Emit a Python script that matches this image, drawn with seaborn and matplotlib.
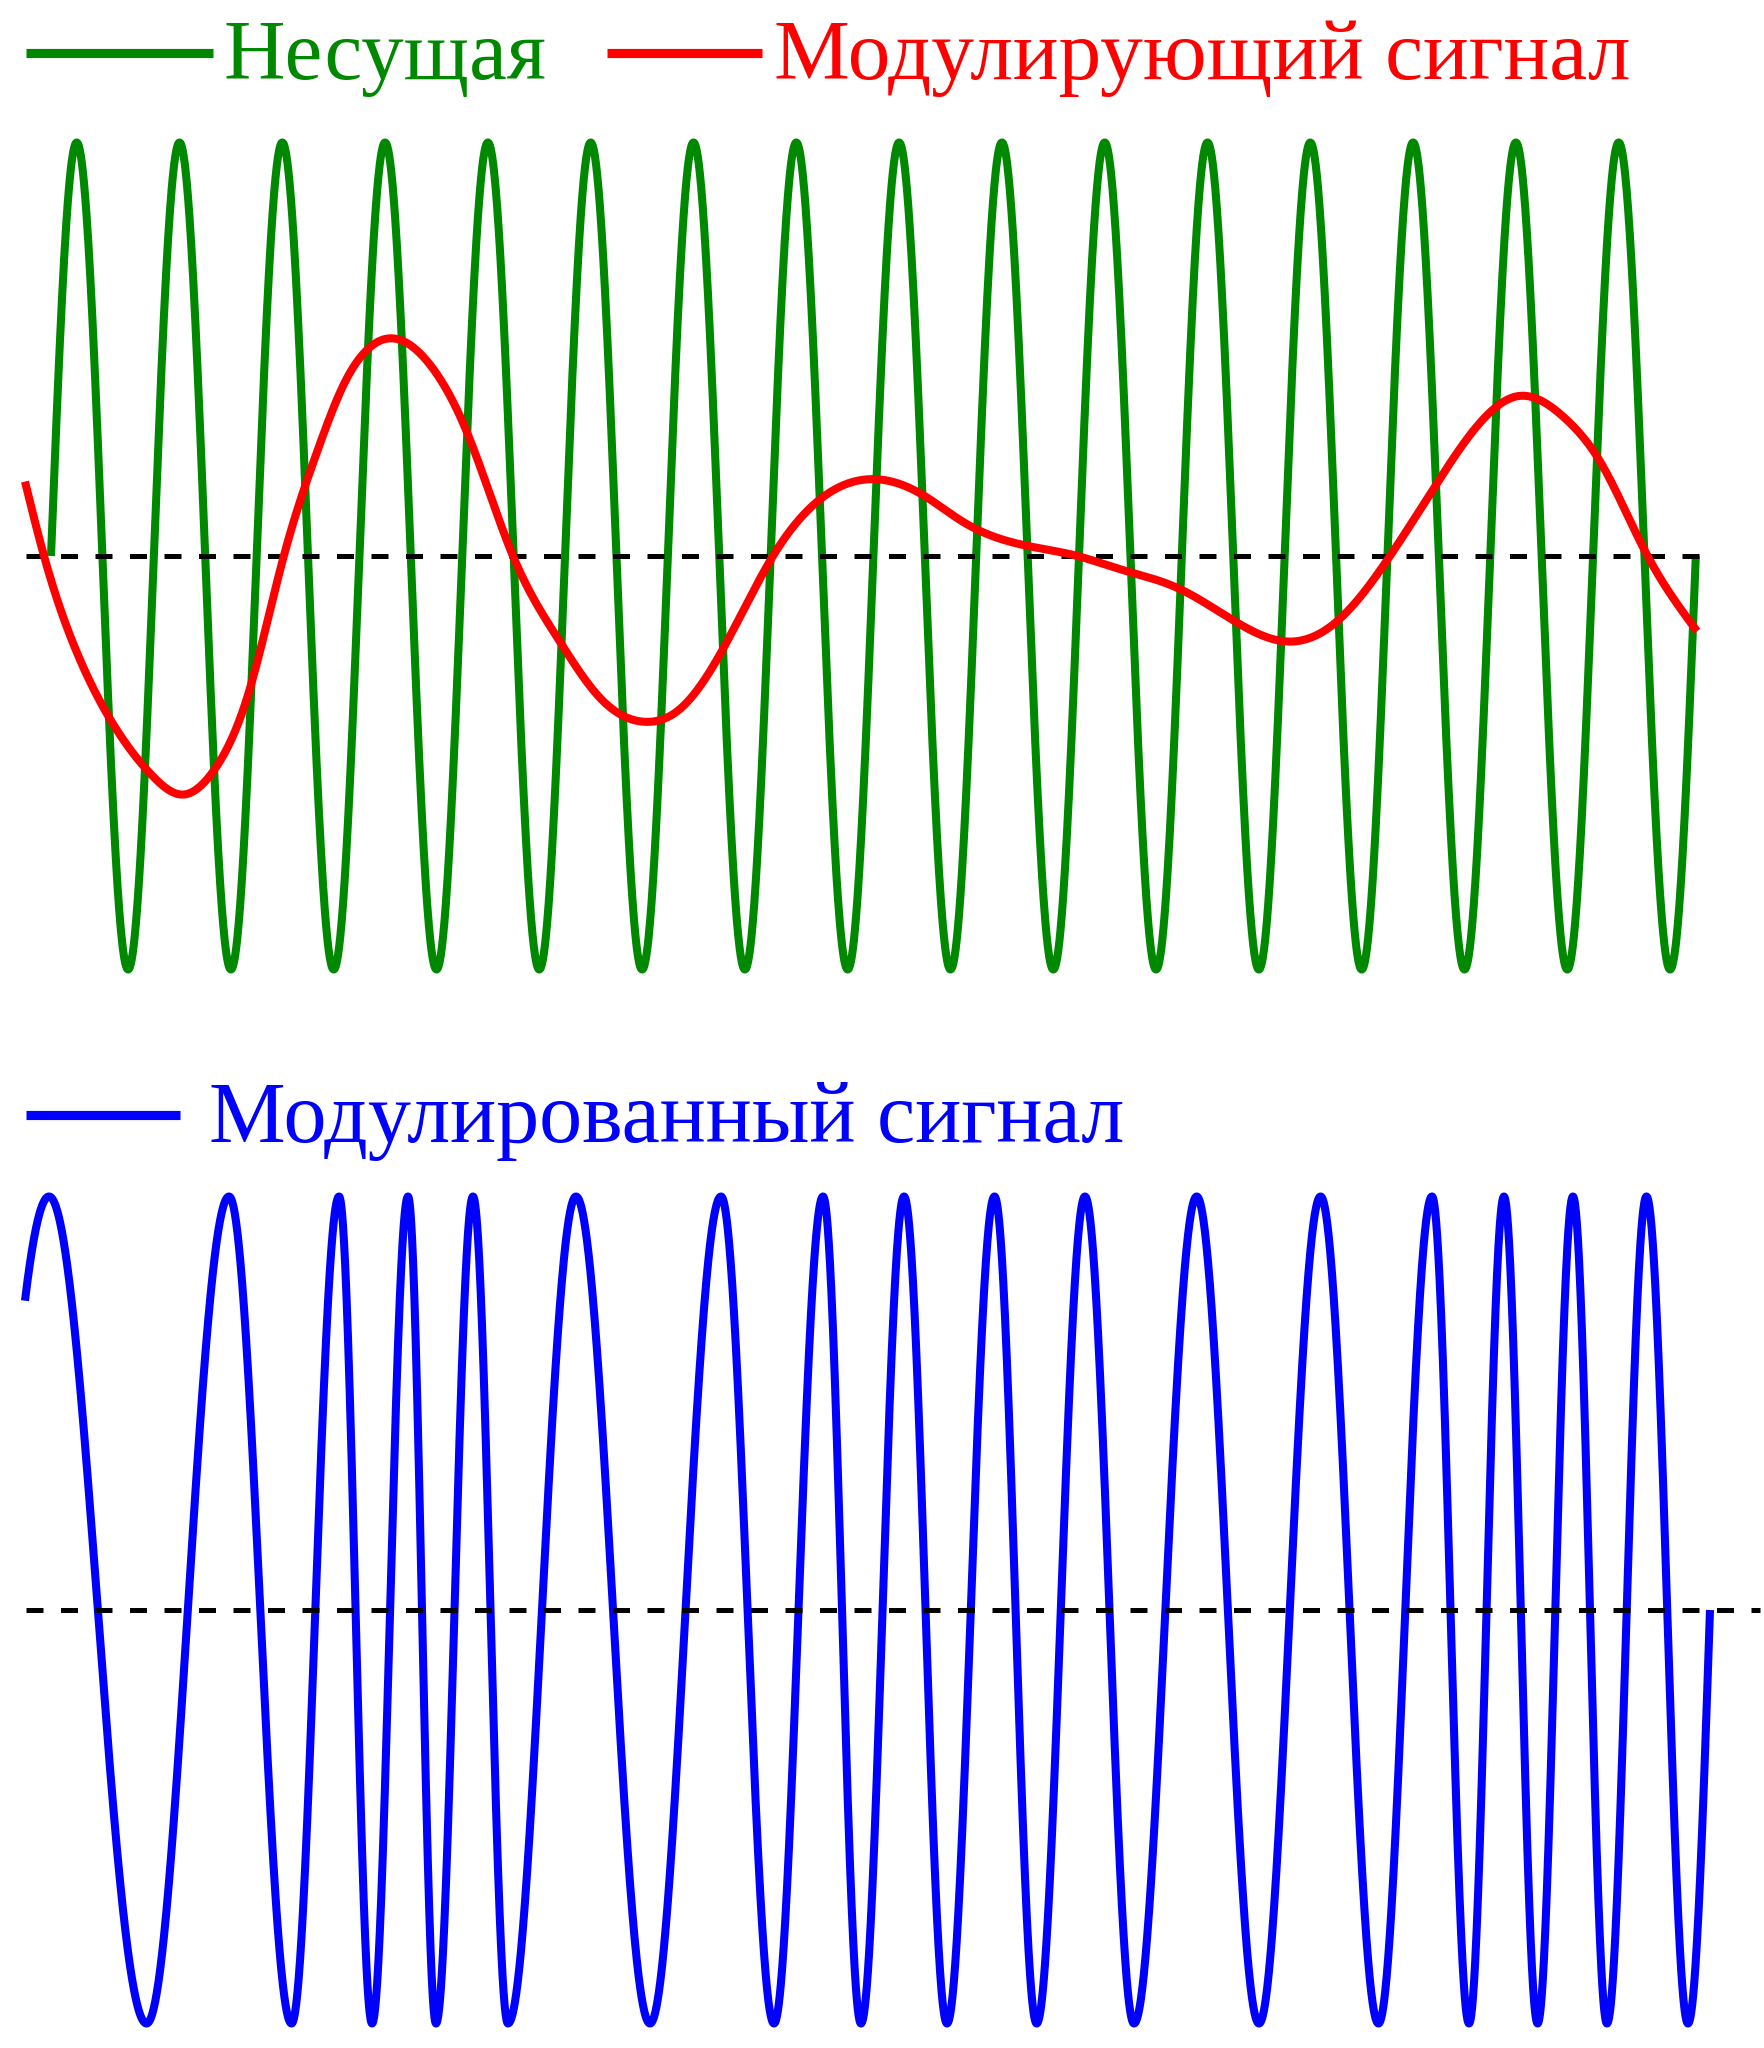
import numpy as np
import pandas as pd
import matplotlib
matplotlib.use("Agg")
import matplotlib.pyplot as plt
import seaborn as sns
from matplotlib.lines import Line2D

# ---------------- data (time in carrier periods, amplitude normalised) ----------------
# Carrier (Несущая): positions of its maxima / minima
carrier_peaks = [0.25, 1.25, 2.25, 3.25, 4.25, 5.25, 6.25, 7.25,
                 8.25, 9.25, 10.25, 11.25, 12.25, 13.25, 14.25, 15.25]
carrier_troughs = [0.75, 1.75, 2.75, 3.75, 4.75, 5.75, 6.75, 7.75,
                   8.75, 9.75, 10.75, 11.75, 12.75, 13.75, 14.75, 15.75]
carrier_start = (0.0, 0.0)
carrier_end = (16.0, 0.0)

# Modulating signal (Модулирующий сигнал): points
mod_t = [-0.253, -0.068, 0.248, 0.623, 0.992, 1.274, 1.586, 1.926, 2.257, 2.597,
         2.850, 3.064, 3.278, 3.673, 4.047, 4.494, 4.942, 5.340, 5.778, 6.114, 6.523,
         7.023, 7.451, 8.064, 8.492, 8.869, 9.241, 9.611, 9.985, 10.360, 10.982,
         11.537, 12.062, 12.519, 13.006, 13.493, 13.979, 14.280, 14.728, 15.068,
         15.516, 16.012]
mod_v = [0.180, 0.000, -0.231, -0.414, -0.533, -0.577, -0.518, -0.328, -0.007, 0.258,
         0.416, 0.496, 0.526, 0.467, 0.299, 0.000, -0.204, -0.343, -0.401, -0.371, -0.231,
         0.000, 0.131, 0.185, 0.146, 0.083, 0.041, 0.019, 0.000, -0.029, -0.080,
         -0.161, -0.207, -0.156, -0.007, 0.180, 0.343, 0.387, 0.333, 0.229,
         0.007, -0.182]

# Modulated signal (Модулированный сигнал): maxima / minima positions
fm_peaks = [-0.019, 1.732, 2.802, 3.473, 4.105, 5.107, 6.518, 7.510, 8.298,
            9.178, 10.058, 11.145, 12.350, 13.434, 14.134, 14.805, 15.520]
fm_troughs = [0.930, 2.340, 3.123, 3.745, 4.445, 5.827, 7.033, 7.879, 8.716,
              9.588, 10.535, 11.751, 12.913, 13.794, 14.461, 15.136, 15.924]
fm_start = (-0.253, 0.748)
fm_end = (16.138, 0.0)

zero_top_t = [-0.243, 16.16]
zero_bottom_t = [-0.243, 16.62]

labels = ["Несущая", "Модулирующий сигнал", "Модулированный сигнал"]
colors = ["#008800", "#ff0000", "#0000ff"]

# ---------------- helpers ----------------
def oscillation(peaks, troughs, start, end, n=6000):
    """Half-cosine arcs between consecutive read-off extrema."""
    ext = sorted([(p, 0) for p in peaks] + [(q, 1) for q in troughs])
    first_kind = ext[0][1]
    ph = [(first_kind + i) * np.pi for i in range(len(ext))]
    t0, v0 = start
    a0 = np.arccos(np.clip(v0, -1, 1))
    phase0 = -a0 if first_kind == 0 else a0
    last_kind = ext[-1][1]
    t1, v1 = end
    a1 = np.arccos(np.clip(v1 if last_kind == 0 else -v1, -1, 1))
    kt = [t0] + [e[0] for e in ext] + [t1]
    kp = [phase0] + ph + [ph[-1] + a1]
    t = np.linspace(t0, t1, n)
    return t, np.cos(np.interp(t, kt, kp))


def natural_spline(xs, ys, per=40):
    x = np.asarray(xs, float); y = np.asarray(ys, float)
    n = len(x); h = np.diff(x)
    A = np.zeros((n, n)); b = np.zeros(n)
    A[0, 0] = 1; A[-1, -1] = 1
    for i in range(1, n - 1):
        A[i, i - 1] = h[i - 1]
        A[i, i] = 2 * (h[i - 1] + h[i])
        A[i, i + 1] = h[i]
        b[i] = 3 * ((y[i + 1] - y[i]) / h[i] - (y[i] - y[i - 1]) / h[i - 1])
    c = np.linalg.solve(A, b)
    ox, oy = [], []
    for i in range(n - 1):
        bi = (y[i + 1] - y[i]) / h[i] - h[i] * (2 * c[i] + c[i + 1]) / 3
        di = (c[i + 1] - c[i]) / (3 * h[i])
        dx = np.linspace(0, h[i], per, endpoint=(i == n - 2))
        ox.append(x[i] + dx)
        oy.append(y[i] + bi * dx + c[i] * dx**2 + di * dx**3)
    return np.concatenate(ox), np.concatenate(oy)

# ---------------- figure ----------------
sns.set_style("white")
plt.rcParams["font.family"] = ["Liberation Serif", "DejaVu Serif"]

W, H = 1765, 2048
fig = plt.figure(figsize=(W / 100, H / 100), dpi=100)

px_per_t = 102.8
t_left = -51 / px_per_t
t_right = (W - 51) / px_per_t

# top panel: zero at y=556 px, ~413 px per unit
A1 = 413.5
ax1 = fig.add_axes([0, 1 - (556 + 1.1 * A1) / H, 1, 2.2 * A1 / H])
ax1.set_xlim(t_left, t_right)
ax1.set_ylim(-1.1, 1.1)
# bottom panel: zero at y=1610 px
A2 = 413.5
ax2 = fig.add_axes([0, 1 - (1610 + 1.04 * A2) / H, 1, 2.14 * A2 / H])
ax2.set_xlim(t_left, t_right)
ax2.set_ylim(-1.04, 1.1)

lw = 5.8
dash = (0, (3.4, 3.5))

ct, cv = oscillation(carrier_peaks, carrier_troughs, carrier_start, carrier_end)
sns.lineplot(x=ct, y=cv, ax=ax1, color=colors[0], linewidth=lw, sort=False,
             estimator=None, legend=False, zorder=2)
sns.lineplot(x=zero_top_t, y=[0, 0], ax=ax1, color="black", linewidth=3.6,
             linestyle=dash, sort=False, estimator=None, legend=False, zorder=3)
mt, mv = natural_spline(mod_t, mod_v)
sns.lineplot(x=mt, y=mv, ax=ax1, color=colors[1], linewidth=lw, sort=False,
             estimator=None, legend=False, zorder=4)

ft, fv = oscillation(fm_peaks, fm_troughs, fm_start, fm_end)
sns.lineplot(x=ft, y=fv, ax=ax2, color=colors[2], linewidth=lw, sort=False,
             estimator=None, legend=False, zorder=2)
sns.lineplot(x=zero_bottom_t, y=[0, 0], ax=ax2, color="black", linewidth=3.6,
             linestyle=dash, sort=False, estimator=None, legend=False, zorder=3)

for ax in (ax1, ax2):
    ax.set_axis_off()
    for ln in ax.get_lines():
        ln.set_solid_capstyle("butt")
        ln.set_clip_on(False)

# ---------------- legends (manual) ----------------
entries = [
    # line x0, x1, line y, text x, baseline y (px), colour index, font size
    (26, 213, 53, 224, 79, 0, 61.2),
    (607, 762, 53, 774, 79, 1, 61.5),
    (26, 180, 1115, 209, 1142, 2, 62.0),
]
for x0, x1, ly, tx, by, i, fs in entries:
    fig.add_artist(Line2D([x0 / W, x1 / W], [1 - ly / H, 1 - ly / H],
                          transform=fig.transFigure, color=colors[i],
                          linewidth=6.6, solid_capstyle="butt"))
    fig.text(tx / W, 1 - by / H, labels[i], color=colors[i], fontsize=fs,
             ha="left", va="baseline", family=["Liberation Serif", "DejaVu Serif"])

fig.savefig("out.png", dpi=100, facecolor="white")
